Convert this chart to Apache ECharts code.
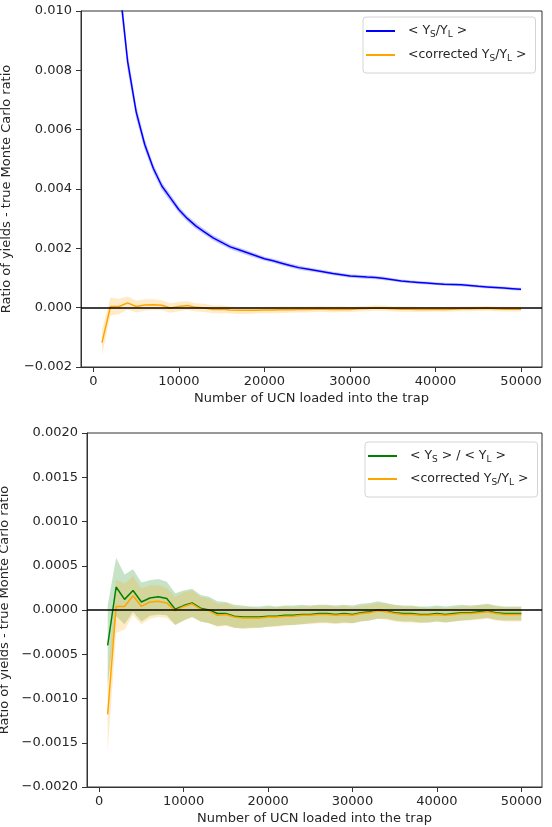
<!DOCTYPE html>
<html>
<head>
<meta charset="utf-8">
<script src="https://cdn.jsdelivr.net/npm/echarts@6/dist/echarts.min.js"></script>
<style>
html, body { margin: 0; padding: 0; background: #fff; }
#chart { width: 552px; height: 827px; }
</style>
</head>
<body>
<div id="chart"></div>
<script>
// number of UCN loaded (x)
var ucnLoaded = [1000, 2000, 3000, 4000, 5000, 6000, 7000, 8000, 9000, 10000,
    11000, 12000, 13000, 14000, 15000, 16000, 17000, 18000, 19000, 20000,
    21000, 22000, 23000, 24000, 25000, 26000, 27000, 28000, 29000, 30000,
    31000, 32000, 33000, 34000, 35000, 36000, 37000, 38000, 39000, 40000,
    41000, 42000, 43000, 44000, 45000, 46000, 47000, 48000, 49000, 50000];

// < Ys/YL > - true ratio
var meanRatio = [0.0330, 0.0166, 0.0110, 0.0083, 0.0066, 0.0055, 0.0047, 0.0041, 0.0037, 0.0033,
    0.0030, 0.00275, 0.00255, 0.00235, 0.0022, 0.00205, 0.00195, 0.00185, 0.00175, 0.00165,
    0.00158, 0.0015, 0.00142, 0.00135, 0.0013, 0.00125, 0.0012, 0.00115, 0.00111, 0.00107,
    0.00105, 0.00103, 0.00102, 0.00098, 0.00094, 0.0009, 0.00087, 0.00085, 0.00083, 0.00081,
    0.00079, 0.00078, 0.00077, 0.00075, 0.00072, 0.0007, 0.00068, 0.00066, 0.00064, 0.00062];
var meanRatioErr = [0.0015, 0.0006, 0.0004, 0.0003, 0.00022, 0.00018, 0.00015, 0.00013, 0.00012, 0.00011,
    0.0001, 0.0001, 0.00009, 0.00009, 0.00009, 0.00008, 0.00008, 0.00008, 0.00008, 0.00007,
    0.00007, 0.00007, 0.00007, 0.00007, 0.00006, 0.00006, 0.00006, 0.00006, 0.00006, 0.00006,
    0.00006, 0.00006, 0.00006, 0.00006, 0.00005, 0.00005, 0.00005, 0.00005, 0.00005, 0.00005,
    0.00005, 0.00005, 0.00005, 0.00005, 0.00005, 0.00005, 0.00005, 0.00005, 0.00005, 0.00005];

// <corrected Ys/YL> - true ratio
var corrected = [-0.00118, 0.00004, 0.00004, 0.00016, 0.00004, 0.00009, 0.0001, 0.00008, -0.00001, 0.00004,
    0.00007, 0.00001, -0.00001, -0.00006, -0.00005, -0.00008, -0.00009, -0.00009, -0.00009, -0.00008,
    -0.00008, -0.00007, -0.00007, -0.00006, -0.00006, -0.00005, -0.00005, -0.00006, -0.00005, -0.00006,
    -0.00004, -0.00003, -0.00001, -0.00002, -0.00004, -0.00005, -0.00005, -0.00006, -0.00006, -0.00005,
    -0.00006, -0.00005, -0.00004, -0.00004, -0.00003, -0.00002, -0.00004, -0.00005, -0.00005, -0.00005];
var correctedErr = [0.00042, 0.0003, 0.00026, 0.00022, 0.0002, 0.00019, 0.00018, 0.00017, 0.00016, 0.00016,
    0.00015, 0.00014, 0.00014, 0.00013, 0.00013, 0.00012, 0.00012, 0.00012, 0.00011, 0.00011,
    0.00011, 0.00011, 0.0001, 0.0001, 0.0001, 0.0001, 0.0001, 0.0001, 0.0001, 0.00009,
    0.00009, 0.00009, 0.00009, 0.00009, 0.00009, 0.00009, 0.00009, 0.00009, 0.00008, 0.00008,
    0.00008, 0.00008, 0.00008, 0.00008, 0.00008, 0.00008, 0.00008, 0.00008, 0.00008, 0.00008];

// <Ys> / <YL> - true ratio
var ratioOfMeans = [-0.0004, 0.00026, 0.00012, 0.00022, 0.00009, 0.000135, 0.00015, 0.00013, 0.00001, 0.00005,
    0.00008, 0.00002, 0.0, -0.00004, -0.00004, -0.00007, -0.00008, -0.00008, -0.00008, -0.00007,
    -0.00007, -0.00006, -0.00006, -0.00005, -0.00005, -0.00004, -0.00004, -0.00005, -0.00004, -0.00005,
    -0.00003, -0.00002, 0.0, -0.00001, -0.00003, -0.00004, -0.00004, -0.00005, -0.00005, -0.00004,
    -0.00005, -0.00004, -0.00003, -0.00003, -0.00002, -0.00001, -0.00003, -0.00004, -0.00004, -0.00004];
var ratioOfMeansErr = [0.00045, 0.00033, 0.00028, 0.00024, 0.00022, 0.0002, 0.0002, 0.00019, 0.00018, 0.00017,
    0.00016, 0.00015, 0.00015, 0.00014, 0.00013, 0.00013, 0.00013, 0.00012, 0.00012, 0.00012,
    0.00011, 0.00011, 0.00011, 0.00011, 0.0001, 0.0001, 0.0001, 0.0001, 0.0001, 0.0001,
    0.0001, 0.0001, 0.0001, 0.00009, 0.00009, 0.00009, 0.00009, 0.00009, 0.00009, 0.00009,
    0.00009, 0.00009, 0.00009, 0.00008, 0.00008, 0.00008, 0.00008, 0.00008, 0.00008, 0.00008];

var xTicks = [0, 10000, 20000, 30000, 40000, 50000];
var yTicksTop = [-0.002, 0, 0.002, 0.004, 0.006, 0.008, 0.010];
var yTicksBottom = [-0.002, -0.0015, -0.001, -0.0005, 0, 0.0005, 0.001, 0.0015, 0.002];

var FONT = 'DejaVu Sans';
var TXT = '#262626';
var AX = '#333';
var FS = 13;

var chart = echarts.init(document.getElementById('chart'), null, { renderer: 'canvas' });

function pairs(arr) {
    return ucnLoaded.map(function (n, i) { return [n, arr[i]]; });
}

// shaded error band (fill_between), one polygon through the axis scales
function band(mean, err, color, idx) {
    return {
        type: 'custom', xAxisIndex: idx, yAxisIndex: idx,
        silent: true, clip: true, z: 1,
        data: ucnLoaded.map(function (n, i) { return [n, mean[i] - err[i], mean[i] + err[i]]; }),
        encode: { x: 0, y: [1, 2] },
        renderItem: function (params, api) {
            if (params.dataIndex !== 0) return null;
            var up = [], down = [];
            for (var i = 0; i < ucnLoaded.length; i++) {
                up.push(api.coord([ucnLoaded[i], mean[i] + err[i]]));
                down.unshift(api.coord([ucnLoaded[i], mean[i] - err[i]]));
            }
            return {
                type: 'polygon',
                shape: { points: up.concat(down) },
                style: { fill: color, stroke: null }
            };
        }
    };
}

function line(name, arr, color, idx, z) {
    return {
        name: name, type: 'line', xAxisIndex: idx, yAxisIndex: idx,
        symbol: 'none', z: z,
        lineStyle: { color: color, width: 1.5 },
        itemStyle: { color: color },
        data: pairs(arr)
    };
}

function zeroLine(idx) {
    return {
        name: 'zero' + idx, type: 'line', xAxisIndex: idx, yAxisIndex: idx,
        data: [], z: 10,
        markLine: {
            symbol: 'none', silent: true, animation: false,
            label: { show: false },
            lineStyle: { color: '#000', width: 1.5, type: 'solid' },
            data: [{ yAxis: 0 }]
        }
    };
}

function xAxisOpt(idx) {
    return {
        type: 'value', gridIndex: idx, min: -1450, max: 52450,
        name: 'Number of UCN loaded into the trap',
        nameLocation: 'middle', nameGap: 25,
        nameTextStyle: { fontFamily: FONT, fontSize: FS, color: TXT },
        axisLine: { show: true, onZero: false, lineStyle: { color: AX, width: 1 } },
        axisTick: { show: true, length: 5, lineStyle: { color: AX }, customValues: xTicks },
        axisLabel: {
            fontFamily: FONT, fontSize: FS, color: TXT, margin: 8, customValues: xTicks,
            formatter: function (v) { return String(v); }
        },
        splitLine: { show: false }
    };
}

function yAxisOpt(idx, ticks, min, max, digits, gap) {
    return {
        type: 'value', gridIndex: idx, min: min, max: max,
        name: 'Ratio of yields - true Monte Carlo ratio',
        nameLocation: 'middle', nameGap: gap,
        nameTextStyle: { fontFamily: FONT, fontSize: FS, color: TXT },
        axisLine: { show: true, onZero: false, lineStyle: { color: AX, width: 1 } },
        axisTick: { show: true, length: 5, lineStyle: { color: AX }, customValues: ticks },
        axisLabel: {
            fontFamily: FONT, fontSize: FS, color: TXT, margin: 9, customValues: ticks,
            formatter: function (v) { return v.toFixed(digits).replace('-', '\u2212'); }
        },
        splitLine: { show: false }
    };
}

var legendNames = {
    mean: '< Y{s|S}/Y{s|L} >',
    corrected: '<corrected Y{s|S}/Y{s|L} >',
    ratio: '< Y{s|S} > / < Y{s|L} >',
    corrected2: '<corrected Y{s|S}/Y{s|L} >'
};

function legendOpt(data, left, top, gap) {
    return {
        data: data.map(function (n) { return { name: n, icon: 'rect' }; }),
        orient: 'vertical', left: left, top: top,
        align: 'left', itemWidth: 29, itemHeight: 2, itemGap: gap,
        padding: [6, 9, 10, 3], selectedMode: false,
        backgroundColor: 'rgba(255,255,255,0.8)',
        borderColor: '#d4d4d4', borderWidth: 1, borderRadius: 3,
        formatter: function (name) { return legendNames[name]; },
        textStyle: {
            fontFamily: FONT, fontSize: 12.5, color: TXT, lineHeight: 16,
            padding: [0, 0, 0, 8],
            rich: { s: { fontFamily: FONT, fontSize: 9, lineHeight: 9, verticalAlign: 'bottom', color: TXT } }
        }
    };
}

var series = [
    band(meanRatio, meanRatioErr, 'rgba(0,0,255,0.22)', 0),
    band(corrected, correctedErr, 'rgba(255,165,0,0.22)', 0),
    line('mean', meanRatio, '#0000ff', 0, 3),
    line('corrected', corrected, '#ffa500', 0, 3),
    zeroLine(0),
    band(ratioOfMeans, ratioOfMeansErr, 'rgba(0,128,0,0.22)', 1),
    band(corrected, correctedErr, 'rgba(255,165,0,0.22)', 1),
    line('ratio', ratioOfMeans, '#008000', 1, 3),
    line('corrected2', corrected, '#ffa500', 1, 4),
    zeroLine(1)
];

chart.setOption({
    animation: false,
    backgroundColor: '#fff',
    grid: [
        { left: 81, top: 11, width: 461, height: 356, outerBoundsMode: 'none', containLabel: false,
          show: true, borderColor: AX, borderWidth: 1, backgroundColor: 'transparent' },
        { left: 87, top: 433, width: 455, height: 354, outerBoundsMode: 'none', containLabel: false,
          show: true, borderColor: AX, borderWidth: 1, backgroundColor: 'transparent' }
    ],
    xAxis: [xAxisOpt(0), xAxisOpt(1)],
    yAxis: [
        yAxisOpt(0, yTicksTop, -0.002, 0.010, 3, 60),
        yAxisOpt(1, yTicksBottom, -0.002, 0.002, 4, 66)
    ],
    legend: [
        legendOpt(['mean', 'corrected'], 363, 17, 8),
        legendOpt(['ratio', 'corrected2'], 365, 442, 7)
    ],
    series: series
});
</script>
</body>
</html>
